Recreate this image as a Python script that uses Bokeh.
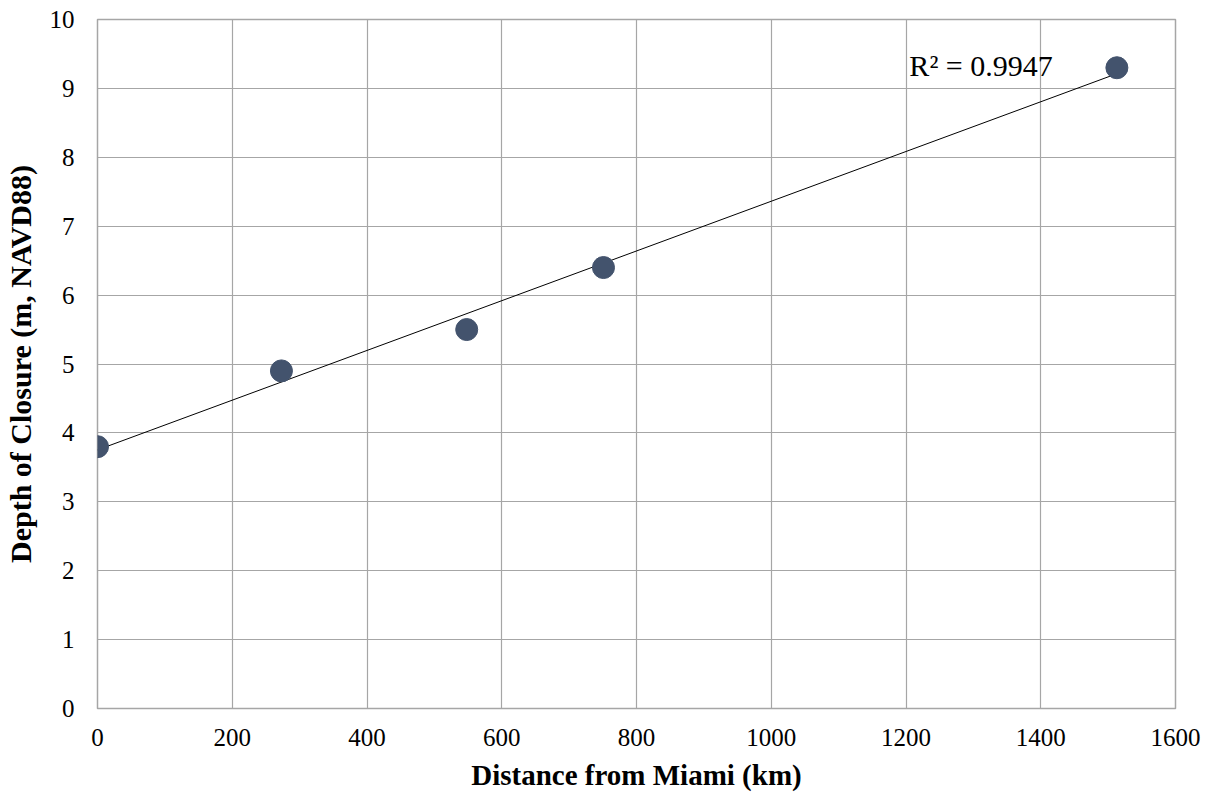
import numpy as np
from bokeh.plotting import figure
from bokeh.models import FixedTicker, Range1d, ColumnDataSource
from bokeh.core.properties import value
from bokeh.embed import file_html
from bokeh.resources import INLINE

distance_km = [0, 273, 548, 751, 1513]
depth_m = [3.8, 4.9, 5.5, 6.4, 9.3]
x_ticks = [0, 200, 400, 600, 800, 1000, 1200, 1400, 1600]
y_ticks = [0, 1, 2, 3, 4, 5, 6, 7, 8, 9, 10]
r2_label = "R² = 0.9947"

FONT = "Liberation Serif"

p = figure(width=1206, height=793, output_backend="svg", toolbar_location=None,
           x_range=Range1d(0, 1600), y_range=Range1d(0, 10),
           min_border_left=96, min_border_right=31, min_border_top=19, min_border_bottom=83)

p.background_fill_color = "white"
p.border_fill_color = "white"
p.outline_line_color = "#a6a6a6"
p.outline_line_width = 1.5

for ax in (p.xaxis, p.yaxis):
    ax.axis_line_color = None
    ax.major_tick_line_color = None
    ax.minor_tick_line_color = None
    ax.major_label_text_font = FONT
    ax.major_label_text_font_size = "25px"
    ax.major_label_text_color = "black"
    ax.axis_label_text_font = FONT
    ax.axis_label_text_font_style = "bold"
    ax.axis_label_text_font_size = "29px"
    ax.axis_label_text_color = "black"

p.yaxis.axis_label_text_font_size = "30px"
p.xaxis.ticker = FixedTicker(ticks=x_ticks)
p.yaxis.ticker = FixedTicker(ticks=y_ticks)
p.xaxis.major_label_standoff = 14
p.yaxis.major_label_standoff = 17
p.xaxis.axis_label = "Distance from Miami (km)"
p.yaxis.axis_label = "Depth of Closure (m, NAVD88)"
p.xaxis.axis_label_standoff = 10
p.yaxis.axis_label_standoff = 10

p.xgrid.ticker = FixedTicker(ticks=x_ticks)
p.ygrid.ticker = FixedTicker(ticks=y_ticks)
p.grid.grid_line_color = "#a6a6a6"
p.grid.grid_line_width = 1.2

# linear trend line
slope, intercept = np.polyfit(distance_km, depth_m, 1)
xs = [min(distance_km), max(distance_km)]
ys = [slope * v + intercept for v in xs]
p.line(xs, ys, line_color="black", line_width=1)

src = ColumnDataSource(dict(x=distance_km, y=depth_m))
p.scatter("x", "y", source=src, size=22, fill_color="#43536d", line_color="#43536d")

p.text(x=[1205], y=[9.33], text=[r2_label], text_font=value(FONT),
       text_font_size="30px", text_color="black", text_baseline="alphabetic")

open("out.html", "w").write(file_html(p, INLINE))
